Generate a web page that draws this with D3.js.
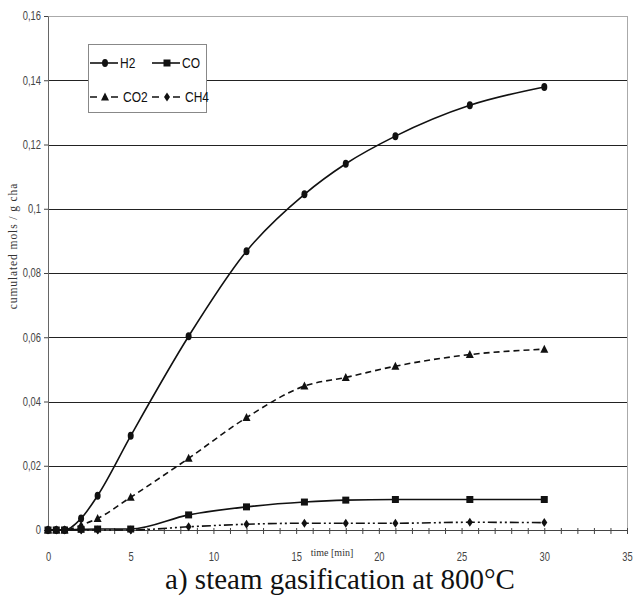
<!DOCTYPE html>
<html>
<head>
<meta charset="utf-8">
<script src="https://cdn.jsdelivr.net/npm/d3@7"></script>
<style>
  body { margin: 0; background: #fff; }
  .narrow { font-family: "Liberation Sans", Arial, sans-serif; }
  .serif { font-family: "Liberation Serif", "Times New Roman", serif; }
</style>
</head>
<body>
<div id="chart"></div>
<script>
// Data
const times = [0, 0.5, 1, 2, 3, 5, 8.5, 12, 15.5, 18, 21, 25.5, 30];
const h2  = [0, 0, 0, 0.0036, 0.0107, 0.0293, 0.0603, 0.0868, 0.1045, 0.1140, 0.1226, 0.1322, 0.1379];
const co  = [0, 0, 0, 0.0002, 0.0003, 0.0003, 0.0047, 0.0072, 0.0087, 0.0093, 0.0095, 0.0095, 0.0095];
const co2 = [0, 0, 0, 0.0015, 0.0036, 0.0102, 0.0223, 0.0350, 0.0448, 0.0475, 0.0510, 0.0546, 0.0563];
const ch4 = [0, 0, 0, 0, 0, 0, 0.0010, 0.0018, 0.0021, 0.0021, 0.0021, 0.0024, 0.0023];
const seriesNames = ['H2', 'CO', 'CO2', 'CH4'];
const yTicks = [0, 0.02, 0.04, 0.06, 0.08, 0.1, 0.12, 0.14, 0.16];
const xTicks = [0, 5, 10, 15, 20, 25, 30, 35];

const width = 633;
const height = 605;
const plotLeft = 48, plotRight = 627, plotTop = 16, plotBottom = 530;

const svg = d3.select('#chart')
  .append('svg')
  .attr('width', width)
  .attr('height', height);

const x = d3.scaleLinear().domain([0, 35]).range([plotLeft, plotRight]);
const y = d3.scaleLinear().domain([0, 0.16]).range([plotBottom, plotTop]);

// squeeze text horizontally (the original uses a narrow face)
function condense(sel, k) {
  sel.each(function() {
    const t = d3.select(this);
    const tx = +t.attr('x') || 0;
    t.attr('x', 0).attr('transform', `translate(${tx},0) scale(${k},1)`);
  });
}

// plot frame (light grey) and grid lines
svg.append('rect')
  .attr('x', plotLeft + 0.5).attr('y', plotTop + 0.5)
  .attr('width', plotRight - plotLeft).attr('height', plotBottom - plotTop)
  .attr('fill', 'none').attr('stroke', '#aaa');

svg.append('g')
  .selectAll('line')
  .data(yTicks.filter(d => d > 0 && d < 0.16))
  .enter()
  .append('line')
  .attr('x1', plotLeft).attr('x2', plotRight)
  .attr('y1', d => Math.round(y(d)) + 0.5).attr('y2', d => Math.round(y(d)) + 0.5)
  .attr('stroke', '#222');

// Y axis
const fmt = d => d === 0 ? '0' : d3.format('~g')(+d.toFixed(2)).replace('.', ',');
const yAxis = svg.append('g')
  .attr('transform', `translate(${plotLeft},0)`)
  .call(d3.axisLeft(y).tickValues(yTicks).tickSize(4).tickSizeOuter(0).tickPadding(3).tickFormat(fmt));
yAxis.select('.domain').attr('stroke', '#666');
yAxis.selectAll('.tick line').attr('stroke', '#444');
yAxis.selectAll('text')
  .attr('class', 'narrow')
  .style('font-size', '12px')
  .attr('fill', '#444')
  .call(condense, 0.78);

// X axis: minor ticks every minute, labels every 5
const xMinor = svg.append('g')
  .attr('transform', `translate(0,${plotBottom - 2})`)
  .call(d3.axisBottom(x).ticks(35).tickSize(6).tickFormat(''));
xMinor.select('.domain').remove();
xMinor.selectAll('.tick line').attr('stroke', '#444');

svg.append('line')
  .attr('x1', plotLeft).attr('x2', plotRight)
  .attr('y1', plotBottom + 0.5).attr('y2', plotBottom + 0.5)
  .attr('stroke', '#444');

const xAxis = svg.append('g')
  .attr('transform', `translate(0,${plotBottom})`)
  .call(d3.axisBottom(x).tickValues(xTicks).tickSize(0).tickPadding(22).tickFormat(d3.format('d')));
xAxis.select('.domain').remove();
xAxis.selectAll('text')
  .attr('class', 'narrow')
  .style('font-size', '12px')
  .attr('fill', '#444')
  .attr('text-anchor', 'start')
  .each(function() {
    const t = d3.select(this);
    const w = this.getComputedTextLength() * 0.78;
    t.attr('x', -w / 2);
  })
  .call(condense, 0.78);

const timeLabel = svg.append('text')
  .attr('class', 'serif')
  .attr('x', 332).attr('y', 556)
  .attr('text-anchor', 'middle')
  .style('font-size', '10px')
  .attr('fill', '#333')
  .text('time [min]');

// Y axis title
svg.append('text')
  .attr('class', 'serif')
  .attr('transform', 'translate(17,246) rotate(-90)')
  .attr('text-anchor', 'middle')
  .style('font-size', '11.5px')
  .style('letter-spacing', '0.9px')
  .attr('fill', '#333')
  .text('cumulated mols / g cha');

// Chart title
svg.append('text')
  .attr('class', 'serif')
  .attr('x', 340).attr('y', 589)
  .attr('text-anchor', 'middle')
  .style('font-size', '29px')
  .attr('fill', '#111')
  .text('a) steam gasification at 800°C');

// Series
const series = [
  { name: 'H2', values: h2, dash: null, marker: 'circle' },
  { name: 'CO', values: co, dash: null, marker: 'square' },
  { name: 'CO2', values: co2, dash: '6,4', marker: 'triangle' },
  { name: 'CH4', values: ch4, dash: '9,3,2,3,2,3', marker: 'diamond' }
];

const markerPath = {
  circle: 'M0,-4 A3,4 0 1,1 0,4 A3,4 0 1,1 0,-4Z',
  square: 'M-3.5,-3.5H3.5V3.5H-3.5Z',
  triangle: 'M0,-4.5L4,3.5H-4Z',
  diamond: 'M0,-4.5L3,0L0,4.5L-3,0Z'
};

const line = d3.line()
  .x(d => x(d[0]))
  .y(d => y(d[1]))
  .curve(d3.curveMonotoneX);

// draw from back to front so H2 sits on top
series.slice().reverse().forEach(s => {
  const pts = times.map((t, i) => [t, s.values[i]]);
  svg.append('path')
    .datum(pts)
    .attr('d', line)
    .attr('fill', 'none')
    .attr('stroke', '#111')
    .attr('stroke-width', 1.6)
    .attr('stroke-dasharray', s.dash);
  svg.append('g')
    .selectAll('path')
    .data(pts)
    .enter()
    .append('path')
    .attr('transform', d => `translate(${x(d[0])},${y(d[1])})`)
    .attr('d', markerPath[s.marker])
    .attr('fill', '#111');
});

// Legend
const legend = svg.append('g').attr('transform', 'translate(88,44)');
legend.append('rect')
  .attr('x', 0.5).attr('y', 0.5)
  .attr('width', 118).attr('height', 68)
  .attr('fill', '#fff').attr('stroke', '#888');

const legendPos = [[2, 19], [64, 19], [2, 53], [64, 53]];
series.forEach((s, i) => {
  const [lx, ly] = legendPos[i];
  const g = legend.append('g').attr('transform', `translate(${lx},${ly})`);
  g.append('line')
    .attr('x1', 0).attr('x2', 28)
    .attr('y1', 0).attr('y2', 0)
    .attr('stroke', '#111').attr('stroke-width', 1.6)
    .attr('stroke-dasharray', s.dash ? '7,6,2,6' : null);
  g.append('path')
    .attr('transform', 'translate(15,0)')
    .attr('d', markerPath[s.marker])
    .attr('fill', '#111');
  g.append('text')
    .attr('class', 'narrow')
    .attr('x', s.dash ? 33 : 30).attr('y', 5)
    .style('font-size', '15px')
    .attr('fill', '#111')
    .text(s.name)
    .call(condense, 0.8);
});
</script>
</body>
</html>
